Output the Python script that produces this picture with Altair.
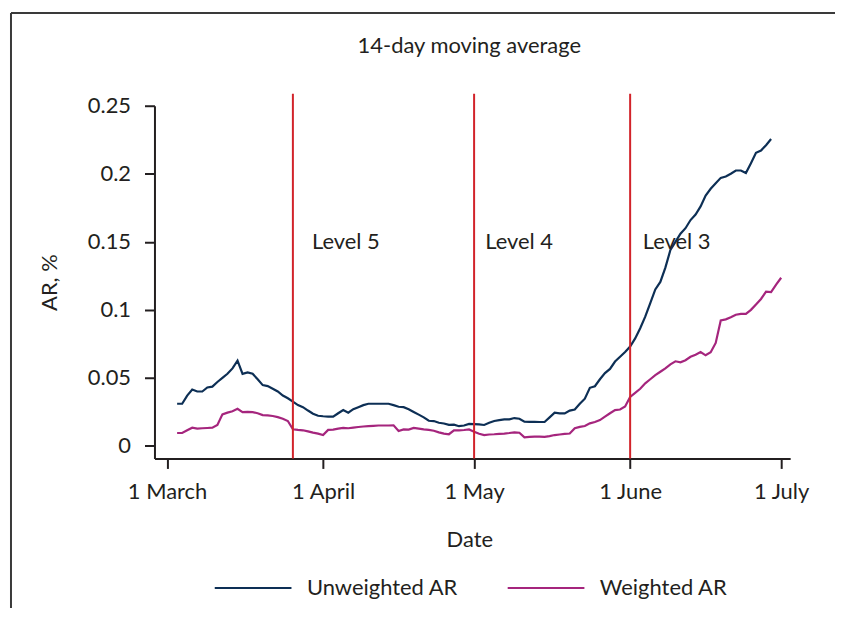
import altair as alt
import pandas as pd

# ---------------- data ----------------
chart_title = "14-day moving average"
series_names = ["Unweighted AR", "Weighted AR"]
series_colors = ["#0d2f55", "#a5257d"]

unweighted_start = "2020-03-03"
unweighted = [
    0.031, 0.031, 0.037, 0.0415, 0.040, 0.040, 0.043, 0.0436, 0.047, 0.050,
    0.053, 0.057, 0.0627, 0.053, 0.054, 0.053, 0.049, 0.0447, 0.044, 0.042,
    0.040, 0.037, 0.035, 0.0325, 0.030, 0.0285, 0.026, 0.0237, 0.0222, 0.0218,
    0.0216, 0.0215, 0.024, 0.0264, 0.0244, 0.027, 0.0285, 0.030, 0.031, 0.031,
    0.031, 0.031, 0.031, 0.030, 0.0288, 0.0285, 0.027, 0.025, 0.023, 0.021,
    0.0185, 0.0183, 0.017, 0.0165, 0.0155, 0.0156, 0.0145, 0.015, 0.0162, 0.016,
    0.0158, 0.0154, 0.017, 0.0183, 0.019, 0.0195, 0.0195, 0.0205, 0.020, 0.0178,
    0.0177, 0.0177, 0.0176, 0.0176, 0.021, 0.0244, 0.0239, 0.0239, 0.026, 0.0268,
    0.031, 0.0347, 0.0427, 0.0439, 0.049, 0.0535, 0.0566, 0.062, 0.0655, 0.069,
    0.073, 0.079, 0.0865, 0.095, 0.105, 0.115, 0.1205, 0.131, 0.144, 0.150,
    0.156, 0.160, 0.166, 0.170, 0.176, 0.184, 0.189, 0.193, 0.197, 0.198,
    0.200, 0.2024, 0.2024, 0.2005, 0.2078, 0.2154, 0.2171, 0.221, 0.2256,
]

weighted_start = "2020-03-03"
weighted = [
    0.0095, 0.0095, 0.0115, 0.0134, 0.0127, 0.013, 0.0132, 0.0134, 0.0154, 0.0232,
    0.0245, 0.0255, 0.0273, 0.0249, 0.025, 0.0248, 0.024, 0.0227, 0.0224, 0.022,
    0.0212, 0.020, 0.0183, 0.0122, 0.0118, 0.0115, 0.0107, 0.0098, 0.009, 0.008,
    0.0118, 0.012, 0.0127, 0.0132, 0.013, 0.0135, 0.0139, 0.0143, 0.0146, 0.0148,
    0.015, 0.015, 0.015, 0.0151, 0.011, 0.0122, 0.012, 0.0132, 0.0127, 0.0122,
    0.0118, 0.0112, 0.0100, 0.0091, 0.0086, 0.0115, 0.0115, 0.0117, 0.0121, 0.0105,
    0.009, 0.008, 0.0084, 0.0086, 0.0089, 0.0091, 0.0095, 0.0100, 0.0097, 0.0063,
    0.0066, 0.0069, 0.0068, 0.0066, 0.0072, 0.008, 0.0084, 0.0088, 0.0091, 0.013,
    0.014, 0.0146, 0.0166, 0.0176, 0.019, 0.0215, 0.024, 0.0263, 0.0268, 0.029,
    0.036, 0.039, 0.042, 0.046, 0.049, 0.052, 0.0545, 0.057, 0.060, 0.0622,
    0.0615, 0.063, 0.0655, 0.067, 0.069, 0.0666, 0.0688, 0.0757, 0.0922, 0.093,
    0.0945, 0.0964, 0.097, 0.0971, 0.100, 0.104, 0.108, 0.1134, 0.113, 0.1185,
    0.1236,
]

level_names = ["Level 5", "Level 4", "Level 3"]
level_dates = ["2020-03-26", "2020-05-01", "2020-06-01"]
level_label_dates = ["2020-03-29T19:00:00", "2020-05-03T05:00:00", "2020-06-03T12:00:00"]
level_label_values = [0.15, 0.15, 0.15]

x_tick_dates = [(2020, 3, 1), (2020, 4, 1), (2020, 5, 1), (2020, 6, 1), (2020, 7, 1)]
y_ticks = [0, 0.05, 0.1, 0.15, 0.2, 0.25]

# ---------------- tables ----------------
lines_df = pd.concat([
    pd.DataFrame({
        "date": pd.date_range(unweighted_start, periods=len(unweighted), freq="D"),
        "value": unweighted,
        "series": series_names[0],
    }),
    pd.DataFrame({
        "date": pd.date_range(weighted_start, periods=len(weighted), freq="D"),
        "value": weighted,
        "series": series_names[1],
    }),
], ignore_index=True)

levels_df = pd.DataFrame({"date": pd.to_datetime(level_dates), "name": level_names})
labels_df = pd.DataFrame({
    "date": pd.to_datetime(level_label_dates),
    "value": level_label_values,
    "name": level_names,
})

# ---------------- style ----------------
FONT = "Lato"
FS = 22
INK = "#231f20"
W, H = 638, 354

x_scale = alt.Scale(domain=[alt.DateTime(year=2020, month=2, date=27, hours=12),
                            alt.DateTime(year=2020, month=7, date=2, hours=19)])
y_scale = alt.Scale(domain=[-0.0092, 0.25], nice=False, zero=False)

x_axis = alt.Axis(
    values=[alt.DateTime(year=y, month=m, date=d) for (y, m, d) in x_tick_dates],
    labelExpr="timeFormat(datum.value, '%-d %B')",
    title="Date", titleX=316, titleY=88, titleBaseline="alphabetic",
    titleAlign="center", titleAnchor="middle",
    labelPadding=13, labelOverlap=False, labelFlush=False, grid=False,
)
y_axis = alt.Axis(
    values=y_ticks, format=".2~f", title="AR, %",
    titleX=-105, titleY=H / 2, titleBaseline="middle", titleAlign="center",
    titleAngle=270, labelPadding=14, grid=False,
)


def X(field):
    return alt.X(field, type="temporal", scale=x_scale, axis=x_axis)


def Y(field):
    return alt.Y(field, type="quantitative", scale=y_scale, axis=y_axis)


lines = alt.Chart(lines_df).mark_line(strokeWidth=2.2).encode(
    x=X("date"),
    y=Y("value"),
    color=alt.Color(
        "series:N",
        scale=alt.Scale(domain=series_names, range=series_colors),
        legend=alt.Legend(
            title=None, orient="none", legendX=59, legendY=444,
            direction="horizontal", symbolType="stroke", symbolSize=5929,
            symbolStrokeWidth=2.2, labelFont=FONT, labelFontSize=FS,
            labelColor=INK, labelOffset=14, columnPadding=45, labelLimit=300,
            padding=0,
        ),
    ),
)

rules = alt.Chart(levels_df).mark_rule(color="#d2232a", strokeWidth=2).encode(
    x=X("date"), y=alt.value(-12), y2=alt.value(H)
)

level_text = alt.Chart(labels_df).mark_text(
    font=FONT, fontSize=FS, color=INK, align="left", baseline="middle"
).encode(x=X("date"), y=Y("value"), text="name:N")

one = alt.Data(values=[{"k": 1}])
title_text = alt.Chart(one).mark_text(
    font=FONT, fontSize=FS, color=INK, align="center", baseline="alphabetic",
    text=chart_title,
).encode(x=alt.value(316), y=alt.value(-53))

frame_top = alt.Chart(one).mark_rule(color="#3a3a3a", strokeWidth=2).encode(
    x=alt.value(-144), x2=alt.value(W + 45), y=alt.value(-93)
)
frame_left = alt.Chart(one).mark_rule(color="#3a3a3a", strokeWidth=2).encode(
    x=alt.value(-144), y=alt.value(-93), y2=alt.value(H + 150)
)

chart = alt.layer(lines, rules, level_text, title_text, frame_top, frame_left).properties(
    width=W, height=H,
    autosize=alt.AutoSizeParams(type="none"),
    padding={"left": 147, "top": 97, "right": 45, "bottom": 150},
).configure_axis(
    labelFont=FONT, labelFontSize=FS, labelColor=INK,
    titleFont=FONT, titleFontSize=FS, titleColor=INK, titleFontWeight="normal",
    domainColor=INK, domainWidth=2, tickColor=INK, tickWidth=2, tickSize=10,
).configure_view(stroke=None)

chart.save("out.html", embed_options={"renderer": "svg", "actions": False})
